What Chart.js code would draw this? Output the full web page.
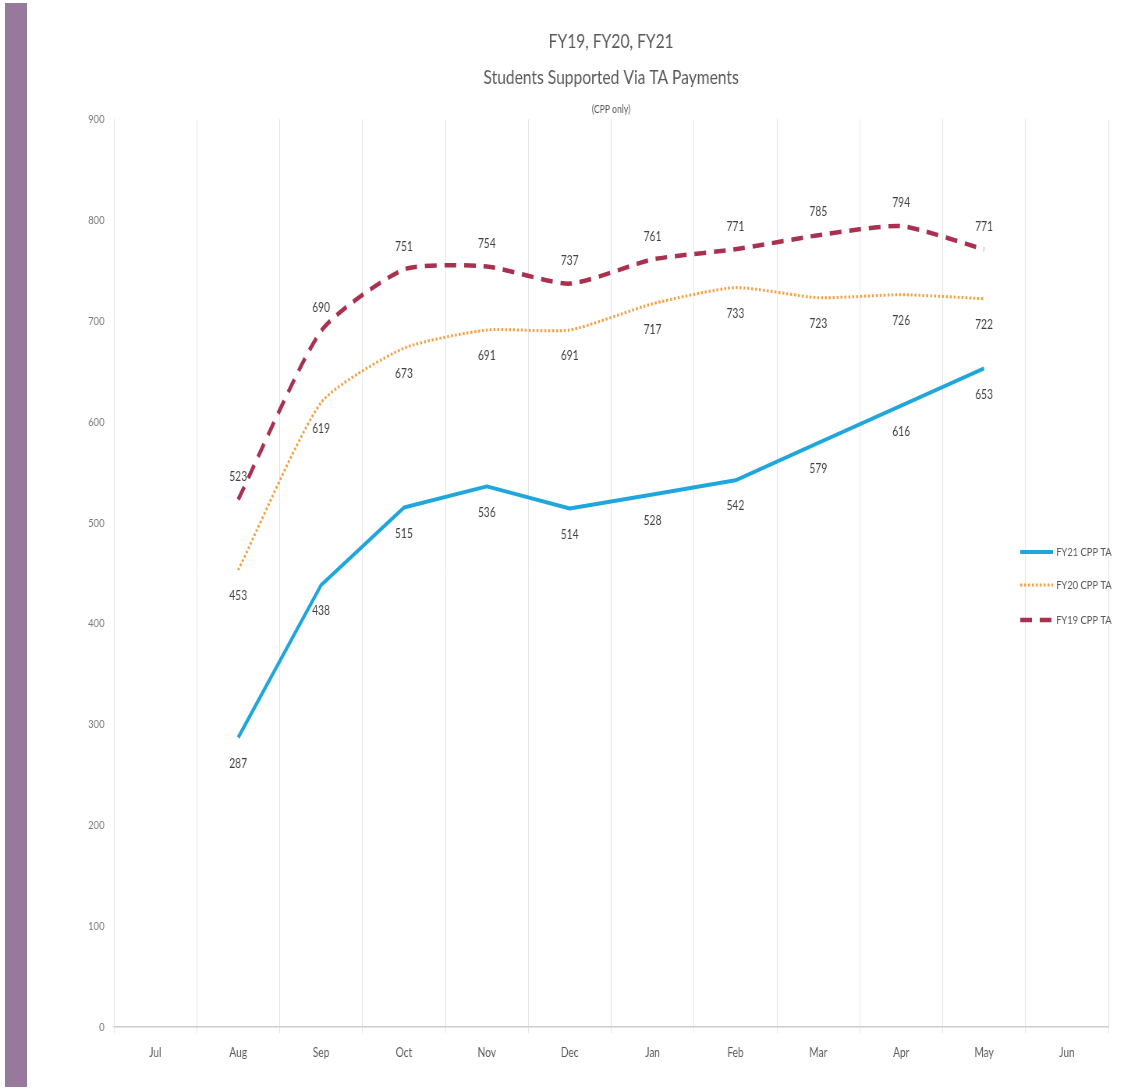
<!DOCTYPE html>
<html>
<head>
<meta charset="utf-8">
<title>Students Supported Via TA Payments</title>
<script src="https://cdn.jsdelivr.net/npm/chart.js@4/dist/chart.umd.min.js"></script>
<style>
  html, body { margin: 0; padding: 0; background: #ffffff; }
  #wrap { position: relative; width: 1126px; height: 1089px; overflow: hidden; }
  #sidebar { position: absolute; left: 5px; top: 3px; width: 22px; height: 1084px; background: #977a9b; }
  /* the drawing surface is wider than the page and shown condensed */
  #squeeze { position: absolute; left: 0; top: 0; width: 1444px; height: 1089px;
             transform: scaleX(0.78); transform-origin: 0 0; }
</style>
</head>
<body>
<div id="wrap">
  <div id="sidebar"></div>
  <div id="squeeze">
    <canvas id="chart" width="1444" height="1089" style="width:1444px;height:1089px"></canvas>
  </div>
</div>
<script>
// Fiscal-year months, July through June
const months = ['Jul', 'Aug', 'Sep', 'Oct', 'Nov', 'Dec', 'Jan', 'Feb', 'Mar', 'Apr', 'May', 'Jun'];

// Students supported via TA payments (CPP only), per month
const fy21 = [null, 287, 438, 515, 536, 514, 528, 542, 579, 616, 653, null];
const fy20 = [null, 453, 619, 673, 691, 691, 717, 733, 723, 726, 722, null];
const fy19 = [null, 523, 690, 751, 754, 737, 761, 771, 785, 794, 771, null];

const yTicks = [0, 100, 200, 300, 400, 500, 600, 700, 800, 900];

const FONT = 'Lato, "Open Sans", sans-serif';

// Writes each point's value just above or below it
const valueLabels = {
  id: 'valueLabels',
  afterDatasetsDraw(chart) {
    const ctx = chart.ctx;
    ctx.save();
    ctx.font = '13px ' + FONT;
    ctx.fillStyle = '#404040';
    ctx.textAlign = 'center';
    ctx.textBaseline = 'middle';
    chart.data.datasets.forEach((ds, di) => {
      const meta = chart.getDatasetMeta(di);
      meta.data.forEach((pt, i) => {
        const v = ds.data[i];
        if (v === null || v === undefined) return;
        ctx.fillText(String(v), pt.x, pt.y + ds.labelShift);
      });
    });
    ctx.restore();
  }
};

// Legend stacked on the right, drawn over the last column
const sideLegend = {
  id: 'sideLegend',
  afterDraw(chart) {
    const ctx = chart.ctx;
    const area = chart.chartArea;
    const x0 = area.right - 113;
    const rowY = [552, 585, 620];
    ctx.save();
    chart.data.datasets.forEach((ds, di) => {
      const y = rowY[di];
      ctx.beginPath();
      ctx.strokeStyle = ds.borderColor;
      ctx.lineWidth = ds.borderWidth;
      ctx.lineCap = 'butt';
      ctx.setLineDash(ds.borderDash || []);
      ctx.moveTo(x0, y);
      ctx.lineTo(x0 + 42, y);
      ctx.stroke();
      ctx.setLineDash([]);
      ctx.font = '12px ' + FONT;
      ctx.fillStyle = '#595959';
      ctx.textAlign = 'left';
      ctx.textBaseline = 'middle';
      ctx.fillText(ds.label, x0 + 46, y);
    });
    ctx.restore();
  }
};

new Chart(document.getElementById('chart'), {
  type: 'line',
  data: {
    labels: months,
    datasets: [
      {
        label: 'FY21 CPP TA',
        data: fy21,
        borderColor: '#1fa6dc',
        borderWidth: 4,
        borderJoinStyle: 'round',
        pointRadius: 0,
        tension: 0,
        labelShift: 26
      },
      {
        label: 'FY20 CPP TA',
        data: fy20,
        borderColor: '#f2a043',
        borderWidth: 3,
        borderDash: [2.5, 2.5],
        pointRadius: 0,
        tension: 0.2,
        labelShift: 26
      },
      {
        label: 'FY19 CPP TA',
        data: fy19,
        borderColor: '#a9304f',
        borderWidth: 4.5,
        borderDash: [15, 10],
        pointRadius: 0,
        tension: 0.2,
        labelShift: -23
      }
    ]
  },
  options: {
    responsive: false,
    animation: false,
    devicePixelRatio: 1,
    layout: { padding: { left: 86, right: 23, top: 0, bottom: 28 } },
    plugins: {
      legend: { display: false },
      tooltip: { enabled: false },
      title: {
        display: true,
        fullSize: false,
        text: ['FY19, FY20, FY21', 'Students Supported Via TA Payments'],
        color: '#595959',
        font: { family: FONT, size: 20, weight: 'normal', lineHeight: 1.8 },
        padding: { top: 24, bottom: 0 }
      },
      subtitle: {
        display: true,
        fullSize: false,
        text: '(CPP only)',
        color: '#595959',
        font: { family: FONT, size: 11, weight: 'normal', lineHeight: 1.2 },
        padding: { top: 7, bottom: 3 }
      }
    },
    scales: {
      x: {
        offset: true,
        afterFit(scale) { scale.height = 34; },
        grid: {
          offset: true,
          color: '#e4e4e4',
          lineWidth: 1,
          drawTicks: true,
          tickLength: 6
        },
        border: { color: '#cccccc', width: 1.5 },
        ticks: {
          color: '#595959',
          padding: 12,
          font: { family: FONT, size: 13 },
          maxRotation: 0
        }
      },
      y: {
        min: 0,
        max: 900,
        afterBuildTicks(scale) {
          scale.ticks = yTicks.map(v => ({ value: v }));
        },
        afterFit(scale) { scale.width = 60; },
        grid: { display: false },
        border: { color: '#e4e4e4', width: 1 },
        ticks: {
          color: '#7a7a7a',
          padding: 4,
          font: { family: FONT, size: 12 }
        }
      }
    }
  },
  plugins: [valueLabels, sideLegend]
});
</script>
</body>
</html>
